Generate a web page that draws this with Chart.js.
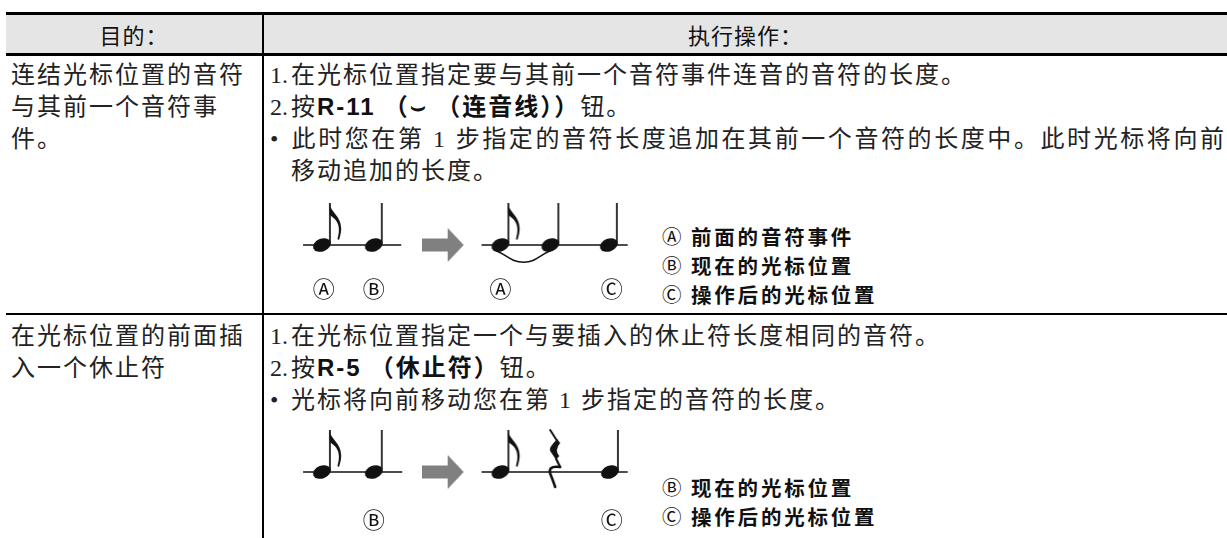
<!DOCTYPE html>
<html>
<head>
<meta charset="utf-8">
<script src="https://cdn.jsdelivr.net/npm/chart.js@4.4.1/dist/chart.umd.min.js"></script>
<style>
  html, body { margin:0; padding:0; background:#fff; }
  #page { position:relative; width:1227px; height:538px; overflow:hidden; background:#fff; }
  .rule { position:absolute; background:#000; }
  .hdr { position:absolute; top:15px; height:38px; line-height:38px; text-align:center;
         font-family:"Noto Sans CJK SC", sans-serif; font-size:22px; color:#111; letter-spacing:1px; }
  .txt { position:absolute; white-space:nowrap; height:32px; line-height:32px;
         font-family:"Liberation Serif", "Noto Sans CJK SC", serif; font-size:24px; color:#222; letter-spacing:2px; }
  .txt.just { text-align:justify; text-align-last:justify; text-justify:inter-character; }
  .txt b { font-family:"Liberation Sans", "Noto Sans CJK SC", sans-serif; font-weight:700; color:#111; }
  .pre { display:inline-block; width:21px; letter-spacing:0; text-align:left; }
  .lg { position:absolute; white-space:nowrap; height:28px; line-height:28px;
        font-family:"Noto Sans CJK SC", sans-serif; font-weight:700; font-size:20.5px; color:#111; letter-spacing:2.8px; }
  .lg .c { display:inline-block; width:29px; height:28px; line-height:28px; font-weight:400; font-size:19.5px;
           letter-spacing:0; vertical-align:top; }
  .cl { position:absolute; height:28px; line-height:28px; transform:translateX(-50%);
        font-family:"Noto Sans CJK SC", sans-serif; font-size:22px; color:#111; }
  canvas.dg { position:absolute; }
</style>
</head>
<body>
<div id="page"></div>
<script>
// ---------- data ----------
const headers = ['目的：', '执行操作：'];

const purpose1 = ['连结光标位置的音符', '与其前一个音符事', '件。'];
const steps1 = [
  ['1.', '在光标位置指定要与其前一个音符事件连音的音符的长度。'],
  ['2.', '按**R-11** **（⌣ （连音线））**钮。'],
  ['•', '此时您在第 1 步指定的音符长度追加在其前一个音符的长度中。此时光标将向前'],
  ['', '移动追加的长度。']
];
const steps1Wrapped = [false, false, true, false];
const legend1 = [['Ⓐ', '前面的音符事件'], ['Ⓑ', '现在的光标位置'], ['Ⓒ', '操作后的光标位置']];

const purpose2 = ['在光标位置的前面插', '入一个休止符'];
const steps2 = [
  ['1.', '在光标位置指定一个与要插入的休止符长度相同的音符。'],
  ['2.', '按**R-5** **（休止符）**钮。'],
  ['•', '光标将向前移动您在第 1 步指定的音符的长度。']
];
const steps2Wrapped = [false, false, false];
const legend2 = [['Ⓑ', '现在的光标位置'], ['Ⓒ', '操作后的光标位置']];

// diagram 1 (beat-like units along the staff)
const staffs1 = [[0.92, 6.54], [11.14, 19.51]];
const notes1X = [2.0, 4.97, 12.22, 15.08, 18.43];
const notes1Kind = ['eighth', 'quarter', 'eighth', 'quarter', 'quarter'];
const arrow1X = [8.97];
const tie1X = [11.95, 13.55, 15.1];
const tie1Y = [-0.14, -0.44, -0.14];
const labels1X = [2.1, 4.97, 12.22, 18.6];
const labels1 = ['Ⓐ', 'Ⓑ', 'Ⓐ', 'Ⓒ'];

// diagram 2
const staffs2 = [[0.92, 6.6], [11.14, 19.51]];
const notes2X = [2.0, 4.97, 12.22, 15.24, 18.49];
const notes2Kind = ['eighth', 'quarter', 'eighth', 'rest', 'quarter'];
const arrow2X = [8.97];
const labels2X = [4.97, 18.6];
const labels2 = ['Ⓑ', 'Ⓒ'];

// ---------- layout ----------
const page = document.getElementById('page');
function el(tag, cls, css, html) {
  const e = document.createElement(tag);
  if (cls) e.className = cls;
  Object.assign(e.style, css || {});
  if (html !== undefined) e.innerHTML = html;
  page.appendChild(e);
  return e;
}
el('div', '', {position:'absolute', left:'6px', right:'0', top:'15px', height:'38px', background:'#e5e5e5'});
el('div', 'rule', {left:'6px', right:'0', top:'12px', height:'3px'});
el('div', 'rule', {left:'6px', right:'0', top:'53px', height:'3px'});
el('div', 'rule', {left:'6px', right:'0', top:'313px', height:'2px'});
el('div', 'rule', {left:'262px', width:'2px', top:'12px', bottom:'0'});
el('div', 'hdr', {left:'6px', width:'256px'}, headers[0]);
el('div', 'hdr', {left:'264px', right:'0'}, headers[1]);

function fmt(s) { return s.split('**').map((p, i) => i % 2 ? '<b>' + p + '</b>' : p).join(''); }
function lines(arr, left, c0) {
  arr.forEach((t, i) => el('div', 'txt', {left:left + 'px', top:(c0 - 16 + i * 32) + 'px'}, fmt(t)));
}
function steps(arr, wrapped, left, c0) {
  arr.forEach((s, i) => {
    const css = {left:left + 'px', top:(c0 - 16 + i * 32) + 'px'};
    if (wrapped[i]) css.width = (1226 - left) + 'px';
    el('div', 'txt' + (wrapped[i] ? ' just' : ''), css,
      '<span class="pre">' + s[0] + '</span>' + fmt(s[1]));
  });
}
function legend(arr, left, c0, pitch) {
  arr.forEach((s, i) => el('div', 'lg', {left:left + 'px', top:(c0 - 14 + i * pitch) + 'px'},
    '<span class="c">' + s[0] + '</span>' + s[1]));
}
lines(purpose1, 11, 75);
steps(steps1, steps1Wrapped, 270, 75);
legend(legend1, 662, 236, 29);
lines(purpose2, 11, 336);
steps(steps2, steps2Wrapped, 270, 336);
legend(legend2, 662, 487, 29);

// ---------- glyphs ----------
function glyph(kind) {
  const c = document.createElement('canvas');
  c.width = 48; c.height = 100;
  const g = c.getContext('2d');
  const cx = 24, cy = 50;
  g.fillStyle = '#111'; g.strokeStyle = '#111';
  if (kind === 'rest') {
    g.lineJoin = 'round'; g.lineCap = 'round';
    g.lineWidth = 2;
    g.beginPath(); g.moveTo(cx - 3, cy - 42); g.lineTo(cx + 4, cy - 31); g.stroke();
    g.beginPath();
    g.moveTo(cx + 4, cy - 33); g.quadraticCurveTo(cx - 5, cy - 24, cx - 3, cy - 21);
    g.lineTo(cx + 3, cy - 12); g.lineTo(cx + 6, cy - 16);
    g.quadraticCurveTo(cx + 1, cy - 22, cx + 7, cy - 29); g.closePath(); g.fill();
    g.lineWidth = 2.2;
    g.beginPath(); g.moveTo(cx + 3, cy - 13); g.lineTo(cx + 7, cy - 5); g.stroke();
    g.lineWidth = 2.6;
    g.beginPath(); g.moveTo(cx + 7, cy - 5);
    g.quadraticCurveTo(cx - 7, cy - 7, cx - 2, cy + 4);
    g.quadraticCurveTo(cx, cy + 9, cx + 2, cy + 15); g.stroke();
    return c;
  }
  g.save(); g.translate(cx, cy); g.rotate(-0.38);
  g.beginPath(); g.ellipse(0, 0, 9.2, 6.4, 0, 0, 2 * Math.PI); g.fill(); g.restore();
  g.lineWidth = 1.7;
  g.beginPath(); g.moveTo(cx + 8, cy - 1); g.lineTo(cx + 8, cy - 42); g.stroke();
  if (kind === 'eighth') {
    g.beginPath();
    g.moveTo(cx + 7.2, cy - 42.5);
    g.bezierCurveTo(cx + 9, cy - 30, cx + 25, cy - 28, cx + 17, cy - 5);
    g.lineTo(cx + 15.5, cy - 6);
    g.bezierCurveTo(cx + 20, cy - 22, cx + 13, cy - 26, cx + 8, cy - 30);
    g.closePath(); g.fill();
  }
  return c;
}
function arrowGlyph() {
  const c = document.createElement('canvas');
  c.width = 44; c.height = 36;
  const g = c.getContext('2d');
  g.fillStyle = '#808080';
  g.fillRect(0, 11.5, 28, 13);
  g.beginPath(); g.moveTo(26, 1); g.lineTo(42, 18); g.lineTo(26, 35); g.closePath(); g.fill();
  return c;
}
const glyphs = { eighth: glyph('eighth'), quarter: glyph('quarter'), rest: glyph('rest'), arrow: arrowGlyph() };

// ---------- charts ----------
const X_MAX = 20.5;
function diagram(left, top, staffs, notesX, kinds, arrowX, tieX, tieY, labX, labs, labCenter) {
  const cv = document.createElement('canvas');
  cv.className = 'dg'; cv.width = 380; cv.height = 100;
  cv.style.left = left + 'px'; cv.style.top = top + 'px';
  cv.style.width = '380px'; cv.style.height = '100px';
  page.appendChild(cv);
  const ds = [];
  staffs.forEach(s => ds.push({ type:'line', data:[{x:s[0], y:0}, {x:s[1], y:0}], borderColor:'#111',
    borderWidth:1.6, pointRadius:0, clip:false }));
  if (tieX) ds.push({ type:'line', data:tieX.map((x, i) => ({x, y:tieY[i]})), borderColor:'#111',
    borderWidth:1.5, pointRadius:0, tension:0.45, clip:false });
  ds.push({ type:'line', showLine:false, data:notesX.map(x => ({x, y:0})),
    pointStyle:(ctx) => glyphs[kinds[ctx.dataIndex]], pointRadius:10, clip:false });
  ds.push({ type:'line', showLine:false, data:arrowX.map(x => ({x, y:0})),
    pointStyle:glyphs.arrow, pointRadius:10, clip:false });
  const ch = new Chart(cv, {
    type:'line',
    data:{ datasets:ds },
    options:{
      responsive:false, animation:false, events:[], devicePixelRatio:1,
      layout:{ padding:0 },
      plugins:{ legend:{display:false}, tooltip:{enabled:false}, title:{display:false} },
      scales:{
        x:{ type:'linear', min:0, max:X_MAX, display:false },
        y:{ type:'linear', min:-1, max:1, display:false }
      }
    }
  });
  labs.forEach((t, i) => {
    const px = left + ch.scales.x.getPixelForValue(labX[i]);
    el('div', 'cl', {left:px + 'px', top:(labCenter - 14) + 'px'}, t);
  });
}
diagram(276, 195, staffs1, notes1X, notes1Kind, arrow1X, tie1X, tie1Y, labels1X, labels1, 287);
diagram(276, 422, staffs2, notes2X, notes2Kind, arrow2X, null, null, labels2X, labels2, 518);
</script>
</body>
</html>
